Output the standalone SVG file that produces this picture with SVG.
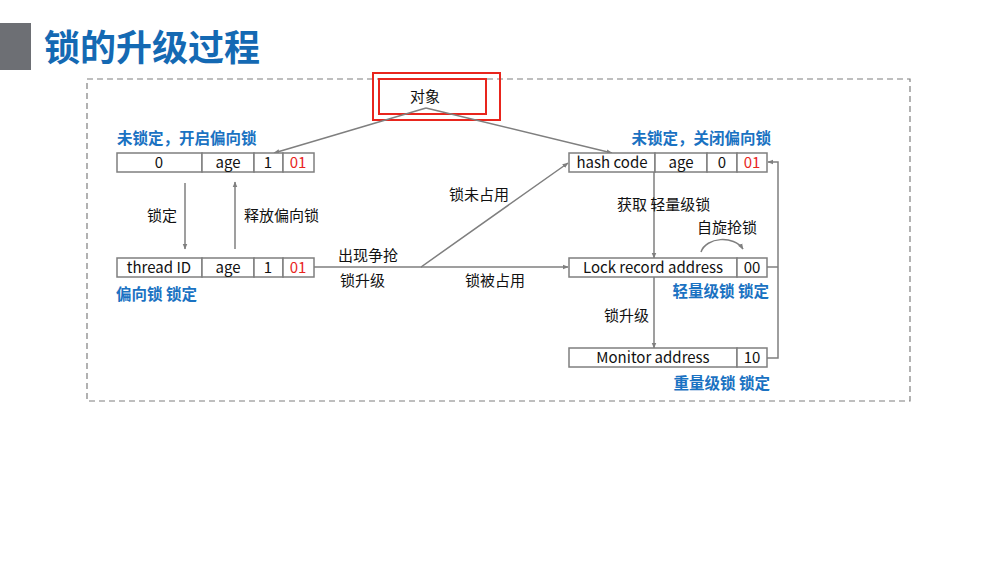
<svg xmlns="http://www.w3.org/2000/svg" width="998" height="561" viewBox="0 0 998 561">
<defs>
<style>
text{font-family:"Noto Sans CJK SC","Noto Sans",sans-serif;}
.cell{fill:#fff;stroke:#7f7f7f;stroke-width:1.5;}
.t{font-size:15px;fill:#111;text-anchor:middle;}
.red{fill:#e8251d;}
.lbl{font-size:15px;fill:#111;}
.blue{font-size:15.5px;fill:#1a72c2;font-weight:bold;}
.ln{stroke:#7f7f7f;stroke-width:1.5;fill:none;}
</style>
<marker id="ah" viewBox="0 0 10 10" refX="9" refY="5" markerWidth="6" markerHeight="6" orient="auto-start-reverse" markerUnits="userSpaceOnUse">
<path d="M0,1 L10,5 L0,9 z" fill="#7f7f7f"/>
</marker>
</defs>
<rect width="998" height="561" fill="#fff"/>
<rect x="0" y="23" width="31" height="47" fill="#6d6f74"/>
<text x="44" y="61" style="font-size:36px;font-weight:bold;fill:#1469b3">锁的升级过程</text>
<rect x="87" y="79" width="823" height="322" fill="none" stroke="#7f7f7f" stroke-width="1.2" stroke-dasharray="6,4"/>

<g id="obj">
<rect x="373" y="73" width="127" height="47" fill="none" stroke="#e8251d" stroke-width="2"/>
<rect x="379" y="79" width="107" height="35" fill="#fff" stroke="#e8251d" stroke-width="2"/>
<text class="lbl" x="425" y="102" text-anchor="middle">对象</text>
</g>

<g id="connectors">
<path class="ln" d="M426,108 L274,153" marker-end="url(#ah)"/>
<path class="ln" d="M426,108 L612,153" marker-end="url(#ah)"/>
<path class="ln" d="M185,183 L185,249" marker-end="url(#ah)"/>
<path class="ln" d="M235,249 L235,182" marker-end="url(#ah)"/>
<path class="ln" d="M314,267 L421,267 L568,163" marker-end="url(#ah)"/>
<path class="ln" d="M421,267 L568,267" marker-end="url(#ah)"/>
<path class="ln" d="M654,172 L654,258" marker-end="url(#ah)"/>
<path class="ln" d="M654,277 L654,348" marker-end="url(#ah)"/>
<path class="ln" d="M767,267 L778,267"/>
<path class="ln" d="M767,358 L778,358 L778,162 L768,162" marker-end="url(#ah)"/>
<path class="ln" d="M701,252 C706,237 734,235 743,249" marker-end="url(#ah)"/>
</g>

<g id="row1">
<rect class="cell" x="117" y="153" width="85" height="19"/>
<rect class="cell" x="202" y="153" width="52" height="19"/>
<rect class="cell" x="254" y="153" width="29" height="19"/>
<rect class="cell" x="283" y="153" width="31" height="19"/>
<text class="t" x="159" y="168">0</text>
<text class="t" x="228" y="168">age</text>
<text class="t" x="268" y="168">1</text>
<text class="t red" x="298" y="168">01</text>
<text class="blue" x="117" y="144">未锁定，开启偏向锁</text>
</g>

<g id="row2">
<rect class="cell" x="569" y="153" width="86" height="19"/>
<rect class="cell" x="655" y="153" width="52" height="19"/>
<rect class="cell" x="707" y="153" width="30" height="19"/>
<rect class="cell" x="737" y="153" width="30" height="19"/>
<text class="t" x="612" y="168">hash code</text>
<text class="t" x="681" y="168">age</text>
<text class="t" x="722" y="168">0</text>
<text class="t red" x="752" y="168">01</text>
<text class="blue" x="771" y="144" text-anchor="end">未锁定，关闭偏向锁</text>
</g>

<g id="row3">
<rect class="cell" x="117" y="258" width="85" height="19"/>
<rect class="cell" x="202" y="258" width="52" height="19"/>
<rect class="cell" x="254" y="258" width="29" height="19"/>
<rect class="cell" x="283" y="258" width="31" height="19"/>
<text class="t" x="159" y="273">thread ID</text>
<text class="t" x="228" y="273">age</text>
<text class="t" x="268" y="273">1</text>
<text class="t red" x="298" y="273">01</text>
<text class="blue" x="116" y="300">偏向锁 锁定</text>
</g>

<g id="row4">
<rect class="cell" x="569" y="258" width="168" height="19"/>
<rect class="cell" x="737" y="258" width="30" height="19"/>
<text class="t" x="653" y="273">Lock record address</text>
<text class="t" x="752" y="273">00</text>
<text class="blue" x="769" y="297" text-anchor="end">轻量级锁 锁定</text>
</g>

<g id="row5">
<rect class="cell" x="569" y="348" width="168" height="19"/>
<rect class="cell" x="737" y="348" width="30" height="19"/>
<text class="t" x="653" y="363">Monitor address</text>
<text class="t" x="752" y="363">10</text>
<text class="blue" x="770" y="389" text-anchor="end">重量级锁 锁定</text>
</g>

<g id="labels">
<text class="lbl" x="147" y="221">锁定</text>
<text class="lbl" x="244" y="221">释放偏向锁</text>
<text class="lbl" x="338" y="261">出现争抢</text>
<text class="lbl" x="340" y="286">锁升级</text>
<text class="lbl" x="449" y="200">锁未占用</text>
<text class="lbl" x="465" y="286">锁被占用</text>
<text class="lbl" x="617" y="210">获取 轻量级锁</text>
<text class="lbl" x="697" y="233">自旋抢锁</text>
<text class="lbl" x="604" y="321">锁升级</text>
</g>
</svg>
